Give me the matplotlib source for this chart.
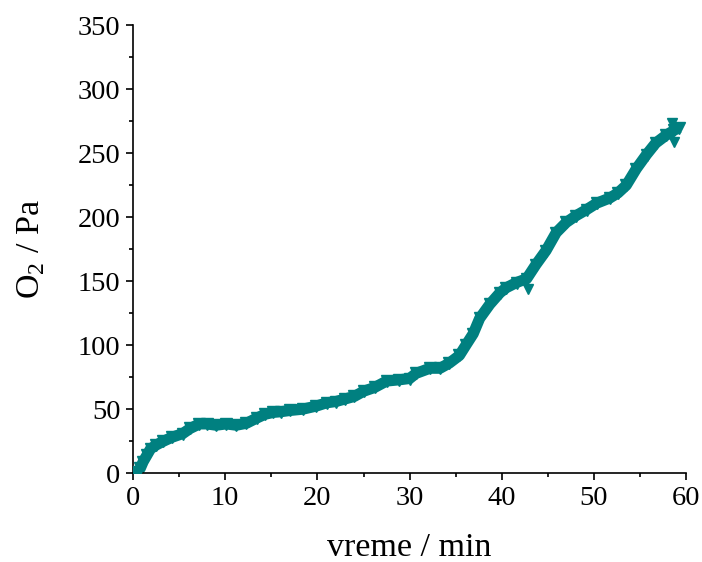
import matplotlib.pyplot as plt
from matplotlib.ticker import MultipleLocator

plt.rcParams['font.family'] = ['Liberation Serif', 'DejaVu Serif']
plt.rcParams['mathtext.fontset'] = 'custom'
plt.rcParams['mathtext.rm'] = 'Liberation Serif'

# tempo (min) e O2 (Pa)
vreme = [0.2, 0.5, 0.8, 1.1, 1.5, 1.9, 2.5, 3.3, 4.2, 5.4, 6.2, 7.2, 8.0, 9.0,
         10.1, 11.2, 12.3, 13.4, 14.3, 15.2, 16.0, 17.0, 18.4, 19.9, 21.0,
         22.0, 23.0, 24.0, 25.0, 26.2, 27.5, 28.9, 30.0, 30.7, 32.2, 33.3,
         34.3, 35.4, 36.1, 36.9, 37.6, 38.7, 39.8, 40.5, 41.6, 42.7, 43.7,
         44.8, 45.9, 47.0, 48.0, 49.2, 50.3, 51.7, 52.6, 53.5, 54.6, 55.7,
         56.7, 57.8, 58.7, 59.2]
o2 = [0, 1, 4, 9, 14, 19, 22, 25, 28, 31, 35, 38.5, 38.5, 37.5,
      38.5, 37.5, 39, 43, 46, 47.5, 48, 49, 50, 52.5, 55,
      56, 58, 60, 64, 67, 72, 73, 74, 78, 82, 82,
      86, 92, 100, 109, 121, 132, 141, 145, 149, 152, 163,
      174, 188, 196, 201, 206, 211, 215, 219, 225, 238, 249,
      258, 264, 268, 270]

# pontos isolados
out_t = [42.8, 58.5, 58.7]
out_v = [144, 274, 259]

cor = '#008080'

fig = plt.figure(figsize=(7.02, 5.62), dpi=100)
ax = fig.add_axes([0.1895, 0.158, 0.788, 0.797])

ax.plot(vreme, o2, color=cor, lw=8, solid_capstyle='butt', zorder=2)
ax.plot(vreme, o2, 'v', color=cor, ms=8, zorder=3)
ax.plot(out_t, out_v, 'v', color=cor, ms=7, zorder=3)

ax.set_xlim(0, 60)
ax.set_ylim(0, 350)
ax.xaxis.set_major_locator(MultipleLocator(10))
ax.xaxis.set_minor_locator(MultipleLocator(5))
ax.yaxis.set_major_locator(MultipleLocator(50))
ax.yaxis.set_minor_locator(MultipleLocator(25))

for s in ['top', 'right']:
    ax.spines[s].set_visible(False)
for s in ['left', 'bottom']:
    ax.spines[s].set_linewidth(1.2)

ax.tick_params(which='major', direction='out', length=5, width=1.2, labelsize=20.5, pad=4)
ax.tick_params(which='minor', direction='out', length=3, width=1.2)

ax.set_xlabel('vreme / min', fontsize=24.5, labelpad=16)
ax.set_ylabel('O$_2$ / Pa', fontsize=24.5, labelpad=22)

fig.savefig('out.png', dpi=100)
